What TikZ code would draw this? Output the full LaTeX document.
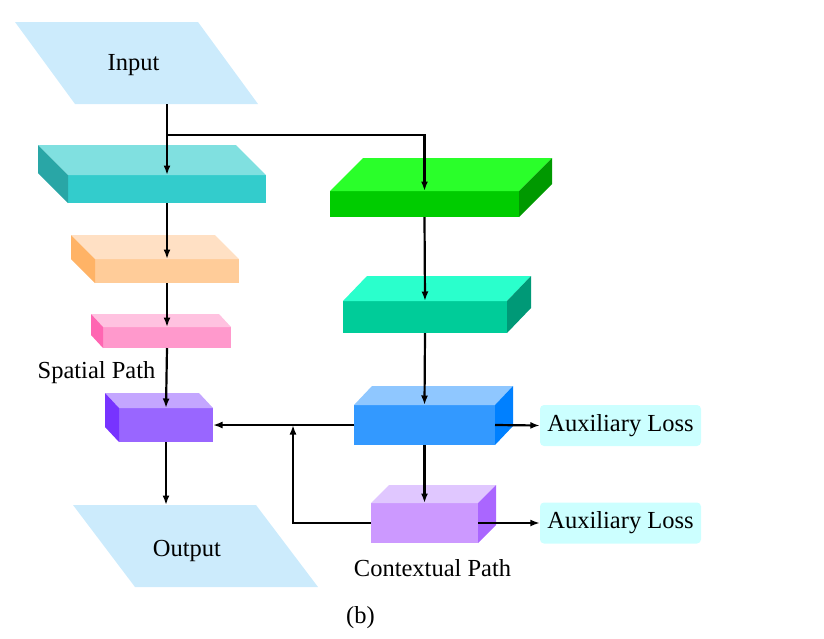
\documentclass[tikz,border=0pt]{standalone}
\usepackage{fontspec}
\setmainfont{Liberation Serif}
\usepackage{tikz}
\usetikzlibrary{positioning,calc}
\usetikzlibrary{arrows.meta}

% colours of the slabs: F front, T top, S side
\definecolor{ioC}{RGB}{204,235,252}
\definecolor{auxC}{RGB}{204,255,255}
\definecolor{Fenc1}{RGB}{51,204,204}
\definecolor{Tenc1}{RGB}{128,224,224}
\definecolor{Senc1}{RGB}{41,166,166}
\definecolor{Fenc2}{RGB}{255,204,153}
\definecolor{Tenc2}{RGB}{255,224,196}
\definecolor{Senc2}{RGB}{255,179,102}
\definecolor{Fenc3}{RGB}{255,153,204}
\definecolor{Tenc3}{RGB}{255,194,224}
\definecolor{Senc3}{RGB}{255,102,178}
\definecolor{Ffuse}{RGB}{153,102,255}
\definecolor{Tfuse}{RGB}{196,166,255}
\definecolor{Sfuse}{RGB}{119,51,255}
\definecolor{Fctx1}{RGB}{0,204,0}
\definecolor{Tctx1}{RGB}{42,255,42}
\definecolor{Sctx1}{RGB}{0,153,0}
\definecolor{Fctx2}{RGB}{0,204,153}
\definecolor{Tctx2}{RGB}{42,255,204}
\definecolor{Sctx2}{RGB}{0,153,119}
\definecolor{Fctx3}{RGB}{51,153,255}
\definecolor{Tctx3}{RGB}{143,199,255}
\definecolor{Sctx3}{RGB}{0,128,255}
\definecolor{Fctx4}{RGB}{204,153,255}
\definecolor{Tctx4}{RGB}{224,199,255}
\definecolor{Sctx4}{RGB}{170,102,255}

\tikzset{
    txt/.style={font=\fontsize{24.5}{29}\selectfont, inner sep=0pt},
    slab/.style={inner sep=0pt, outer sep=0pt},
    iobase/.style={inner sep=0pt, outer sep=0pt, minimum width=183, minimum height=82},
    lossbox/.style={txt, fill=auxC, rounded corners=4pt, minimum width=161, minimum height=41},
    flow/.style={line width=2.2pt, -{Latex[length=9.5pt,width=7pt]}}
}

\begin{document}
\begin{tikzpicture}[x=1pt,y=-1pt]
            \useasboundingbox (0, 0) rectangle (824, 638);

            % input and output
            \node[iobase] (in) at (166.5, 63) {};
            \fill[ioC] (in.south west) -- (in.south east) -- ($ (in.north east) + (-60, 0) $) -- ($ (in.north west) + (-60, 0) $) -- cycle;
            \node[txt] (inTxt) at ($ (in) + (-33, 2.5) $) {Input};

            \node[iobase] (out) at (226.5, 546) {};
            \fill[ioC] (out.south west) -- (out.south east) -- ($ (out.north east) + (-62, 0) $) -- ($ (out.north west) + (-62, 0) $) -- cycle;
            \node[txt] (outTxt) at ($ (out) + (-39.5, 4.5) $) {Output};

            % slabs
            \foreach \n/\cx/\cy/\w/\h/\dx/\dy/\sd in {
                    enc1/167/189/198/28/-30/-30/west,
                    enc2/167/271/144/24/-24/-24/west,
                    enc3/167/337.5/128/21/-12/-13/west,
                    fuse/166/425/94/34/-14/-15/west,
                    ctx1/424.5/204/189/26/33/-33/east,
                    ctx2/425/317/164/32/24/-25/east,
                    ctx3/424.5/425/141/40/18/-19/east,
                    ctx4/424.5/523/107/40/18/-18/east}
                {
                    \node[slab, fill=F\n, minimum width=\w, minimum height=\h] (\n) at (\cx, \cy) {};
                    \fill[T\n] (\n.north west) -- ++(\dx, \dy) -- ($ (\n.north east) + (\dx, \dy) $) -- (\n.north east) -- cycle;
                    \fill[S\n] (\n.north \sd) -- ++(\dx, \dy) -- ($ (\n.south \sd) + (\dx, \dy) $) -- (\n.south \sd) -- cycle;
                }

            % losses
            \node[lossbox] (aux1) at (620.5, 425.5) {Auxiliary Loss};
            \node[lossbox] (aux2) at (620.5, 523) {Auxiliary Loss};

            % labels
            \node[txt, anchor=base] (spLbl) at (96.5, 378) {Spatial Path};
            \node[txt, anchor=base] (cpLbl) at (432.5, 576) {Contextual Path};
            \node[txt, anchor=base] (capLbl) at (360.5, 623) {(b)};

            % arrows
            \coordinate (split) at (167, 135);
            \coordinate (merge) at (293, 425);
            \draw[flow] (in.south -| enc1.north) -- (enc1.north);
            \draw[flow] (split) -| (ctx1.north);
            \draw[flow] (enc1.south) -- (enc2.north);
            \draw[flow] (enc2.south) -- (enc3.north);
            \draw[flow] (enc3.south) -- (fuse.north);
            \draw[flow] (fuse.south) -- (fuse.south |- out.north);
            \draw[flow] (ctx1.south) -- (ctx2.north);
            \draw[flow] (ctx2.south) -- (ctx3.north);
            \draw[flow] (ctx3.south) -- (ctx4.north);
            \draw[flow] (ctx3.west) -- (fuse.east);
            \draw[flow] (ctx4.west) -| (merge);
            \draw[flow] (ctx3.east) -- (aux1.west);
            \draw[flow] (ctx4.east) -- (aux2.west);
        \end{tikzpicture}
\end{document}
